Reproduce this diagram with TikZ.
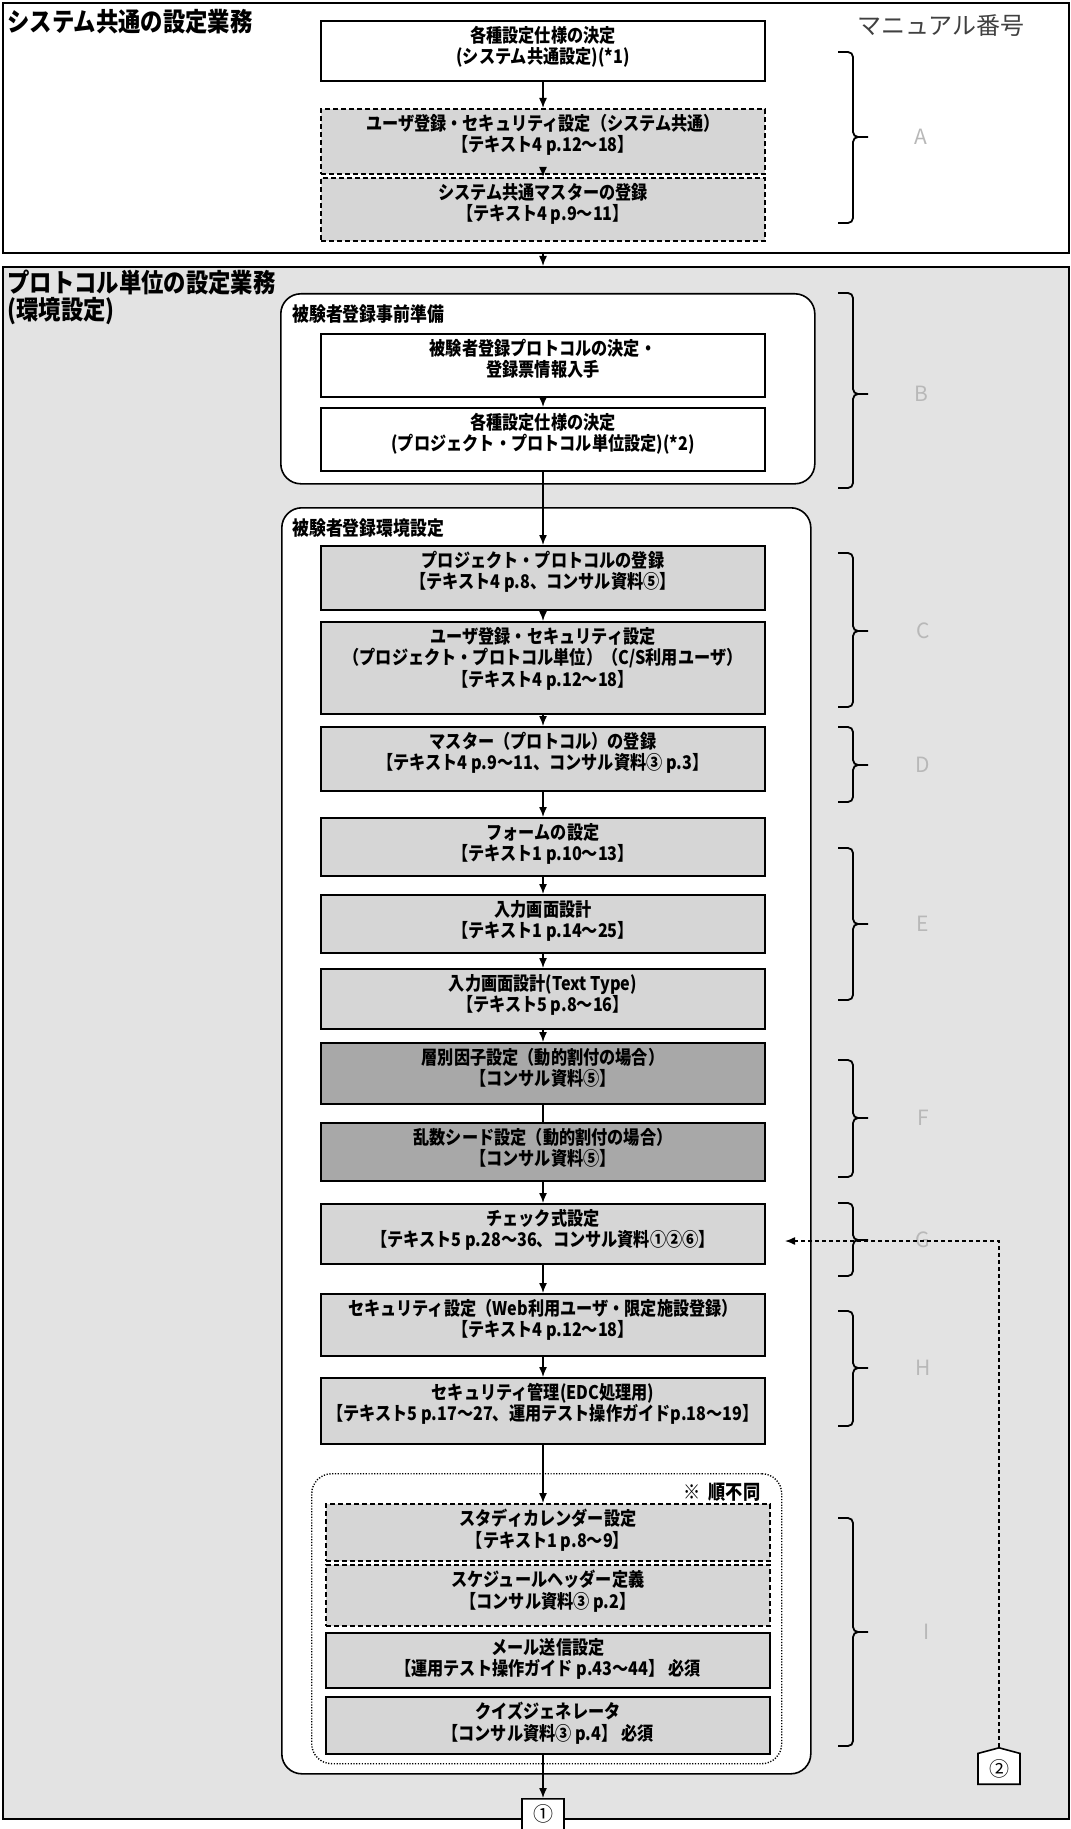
\documentclass[tikz,border=0pt]{standalone}
\usepackage{fontspec}
\setmainfont{Noto Sans CJK JP}
\newfontfamily\condfont{Noto Sans CJK JP}[FakeStretch=0.86]
\usepackage{xcolor}
\usetikzlibrary{arrows.meta, positioning, shapes.symbols}

\definecolor{bgdots}{gray}{0.89}
\definecolor{boxdots}{gray}{0.84}
\definecolor{darkdots}{gray}{0.66}
\definecolor{lettergray}{gray}{0.72}

\begin{document}
\begin{tikzpicture}[
        x=0.5pt, y=-0.5pt,
        section/.style={rectangle, draw=black, line width=1pt, anchor=north west, minimum width=533pt, inner sep=0pt},
        group/.style={rectangle, rounded corners=10pt, draw=black, line width=0.8pt, fill=white, anchor=north west, inner sep=0pt},
        box/.style={rectangle, draw=black, line width=1.1pt, fill=boxdots, anchor=north, minimum width=222pt, inner sep=0pt},
        dashbox/.style={box, dash pattern=on 2.5pt off 1.5pt},
        whitebox/.style={box, fill=white},
        darkbox/.style={box, fill=darkdots},
        boxtext/.style={anchor=north, align=center, inner sep=0pt, yshift=-2.8pt, font=\condfont\fontsize{9.4}{10.8}\selectfont\bfseries},
        title/.style={anchor=north west, align=left, inner sep=0pt, font=\condfont\fontsize{13}{11.4}\selectfont\bfseries},
        grouptitle/.style={anchor=west, inner sep=0pt, font=\condfont\fontsize{9.8}{9.8}\selectfont\bfseries},
        letter/.style={text=lettergray, font=\fontsize{10.5}{10.5}\selectfont},
        bracket/.style={line width=0.9pt, rounded corners=2.5pt},
        arrow/.style={-{Latex[length=5pt, width=4pt]}, line width=0.7pt},
        feedback/.style={arrow, dash pattern=on 2pt off 1.5pt},
        offpage/.style={signal, draw=black, line width=0.8pt, fill=white, signal pointer angle=150, minimum width=21pt, minimum height=17pt, inner sep=1pt, font=\fontsize{10}{10}\selectfont}
    ]
        \useasboundingbox (0,0) rectangle (1070,1829);

        % system-wide settings
        \node[section, fill=white, minimum height=125pt] (sec1) at (2,2) {};
        \node[title] (sec1title) at (7,9) {システム共通の設定業務};
        \node[font=\fontsize{12}{12}\selectfont, text=black!75] (manualno) at (941,26) {マニュアル番号};

        \node[whitebox, minimum height=30pt, label={[boxtext]north:{各種設定仕様の決定\\(システム共通設定)(*1)}}] (spec) at (543,20) {};
        \node[dashbox, minimum height=32.5pt, label={[boxtext]north:{ユーザ登録・セキュリティ設定（システム共通）\\【テキスト4 p.12～18】}}] (sysuser) at (543,108) {};
        \node[dashbox, minimum height=31.5pt, label={[boxtext]north:{システム共通マスターの登録\\【テキスト4 p.9～11】}}] (sysmaster) at (543,177) {};

        % per-protocol settings
        \node[section, fill=bgdots, minimum height=776pt] (sec2) at (2,266) {};
        \node[title] (sec2title) at (7,270) {プロトコル単位の設定業務\\(環境設定)};

        \node[group, minimum width=267pt, minimum height=95pt] (prep) at (280,293) {};
        \node[grouptitle] (preptitle) at (292,314) {被験者登録事前準備};
        \node[whitebox, minimum height=31.5pt, label={[boxtext]north:{被験者登録プロトコルの決定・\\登録票情報入手}}] (protocol) at (543,333) {};
        \node[whitebox, minimum height=31.5pt, label={[boxtext]north:{各種設定仕様の決定\\(プロジェクト・プロトコル単位設定)(*2)}}] (projspec) at (543,407) {};

        \node[group, minimum width=264.5pt, minimum height=633pt] (env) at (281,507) {};
        \node[grouptitle] (envtitle) at (292,528) {被験者登録環境設定};
        \node[box, minimum height=32pt, label={[boxtext]north:{プロジェクト・プロトコルの登録\\【テキスト4 p.8、コンサル資料⑤】}}] (project) at (543,545) {};
        \node[box, minimum height=46pt, label={[boxtext]north:{ユーザ登録・セキュリティ設定\\（プロジェクト・プロトコル単位）（C/S利用ユーザ）\\【テキスト4 p.12～18】}}] (user) at (543,621) {};
        \node[box, minimum height=32pt, label={[boxtext]north:{マスター（プロトコル）の登録\\【テキスト4 p.9～11、コンサル資料③ p.3】}}] (master) at (543,726) {};
        \node[box, minimum height=29pt, label={[boxtext]north:{フォームの設定\\【テキスト1 p.10～13】}}] (form) at (543,817) {};
        \node[box, minimum height=29pt, label={[boxtext]north:{入力画面設計\\【テキスト1 p.14～25】}}] (screen) at (543,894) {};
        \node[box, minimum height=30pt, label={[boxtext]north:{入力画面設計(Text Type)\\【テキスト5 p.8～16】}}] (textscreen) at (543,968) {};
        \node[darkbox, minimum height=30.5pt, label={[boxtext]north:{層別因子設定（動的割付の場合）\\【コンサル資料⑤】}}] (strata) at (543,1042) {};
        \node[darkbox, minimum height=29pt, label={[boxtext]north:{乱数シード設定（動的割付の場合）\\【コンサル資料⑤】}}] (seed) at (543,1122) {};
        \node[box, minimum height=30pt, label={[boxtext]north:{チェック式設定\\【テキスト5 p.28～36、コンサル資料①②⑥】}}] (check) at (543,1203) {};
        \node[box, minimum height=31pt, label={[boxtext]north:{セキュリティ設定（Web利用ユーザ・限定施設登録）\\【テキスト4 p.12～18】}}] (websec) at (543,1293) {};
        \node[box, minimum height=33pt, label={[boxtext]north:{セキュリティ管理(EDC処理用)\\【テキスト5 p.17～27、運用テスト操作ガイドp.18～19】}}] (edcsec) at (543,1377) {};

        % any order
        \node[group, rounded corners=10pt, line width=0.7pt, dash pattern=on 0.6pt off 0.8pt, minimum width=235pt, minimum height=145pt] (anyorder) at (311,1473) {};
        \node[font=\condfont\fontsize{10}{10}\selectfont\bfseries] (anyordernote) at (722,1492) {※\ \ 順不同};
        \node[dashbox, minimum height=28.5pt, label={[boxtext]north:{スタディカレンダー設定\\【テキスト1 p.8～9】}}] (calendar) at (548,1503) {};
        \node[dashbox, minimum height=30.5pt, label={[boxtext]north:{スケジュールヘッダー定義\\【コンサル資料③ p.2】}}] (schedule) at (548,1564) {};
        \node[box, minimum height=27.5pt, label={[boxtext]north:{メール送信設定\\【運用テスト操作ガイド p.43～44】 必須}}] (mail) at (548,1632) {};
        \node[box, minimum height=28.5pt, label={[boxtext]north:{クイズジェネレータ\\【コンサル資料③ p.4】 必須}}] (quiz) at (548,1696) {};

        \node[offpage, signal to=south, anchor=north] (next1) at (543,1798) {①};
        \node[offpage, signal to=north, anchor=south] (next2) at (999,1785) {②};
        \coordinate (checkin) at (785,1241);

        % manual number brackets
        \draw[bracket] (838,52) -- (853,52) -- (853,137) -- (868,137) (868,137) -- (853,137) -- (853,223) -- (838,223);
        \draw[bracket] (838,293) -- (853,293) -- (853,394) -- (868,394) (868,394) -- (853,394) -- (853,488) -- (838,488);
        \draw[bracket] (838,553) -- (853,553) -- (853,631) -- (868,631) (868,631) -- (853,631) -- (853,707) -- (838,707);
        \draw[bracket] (838,727) -- (853,727) -- (853,765) -- (868,765) (868,765) -- (853,765) -- (853,802) -- (838,802);
        \draw[bracket] (838,848) -- (853,848) -- (853,924) -- (868,924) (868,924) -- (853,924) -- (853,1000) -- (838,1000);
        \draw[bracket] (838,1060) -- (853,1060) -- (853,1118) -- (868,1118) (868,1118) -- (853,1118) -- (853,1177) -- (838,1177);
        \draw[bracket] (838,1203) -- (853,1203) -- (853,1240) -- (868,1240) (868,1240) -- (853,1240) -- (853,1276) -- (838,1276);
        \draw[bracket] (838,1311) -- (853,1311) -- (853,1368) -- (868,1368) (868,1368) -- (853,1368) -- (853,1426) -- (838,1426);
        \draw[bracket] (838,1518) -- (853,1518) -- (853,1632) -- (868,1632) (868,1632) -- (853,1632) -- (853,1746) -- (838,1746);

        \node[letter] (mana) at (921,137) {A};
        \node[letter] (manb) at (921,394) {B};
        \node[letter] (manc) at (923,631) {C};
        \node[letter] (mand) at (923,765) {D};
        \node[letter] (mane) at (923,924) {E};
        \node[letter] (manf) at (923,1118) {F};
        \node[letter] (mang) at (923,1240) {G};
        \node[letter] (manh) at (923,1368) {H};
        \node[letter] (mani) at (927,1632) {I};

        % flow
        \draw[arrow] (spec) -- (sysuser);
        \draw[arrow] (sysuser) -- (sysmaster);
        \draw[arrow] (sec1.south -| spec.south) -- (sec2.north -| spec.south);
        \draw[arrow] (protocol) -- (projspec);
        \draw[arrow] (projspec) -- (project);
        \draw[arrow] (project) -- (user);
        \draw[arrow] (user) -- (master);
        \draw[arrow] (master) -- (form);
        \draw[arrow] (form) -- (screen);
        \draw[arrow] (screen) -- (textscreen);
        \draw[arrow] (textscreen) -- (strata);
        \draw[line width=0.7pt] (strata) -- (seed);
        \draw[arrow] (seed) -- (check);
        \draw[arrow] (check) -- (websec);
        \draw[arrow] (websec) -- (edcsec);
        \draw[arrow] (edcsec.south) -- (edcsec.south |- calendar.north);
        \draw[arrow] (quiz.south -| next1.north) -- (next1.north);
        \draw[feedback] (next2.north) |- (checkin);
    \end{tikzpicture}
\end{document}
